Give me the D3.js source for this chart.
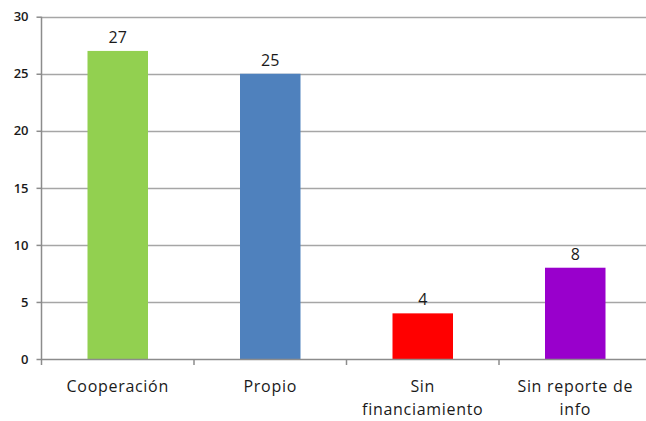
<!DOCTYPE html>
<html><head><meta charset="utf-8">
<script src="https://cdn.jsdelivr.net/npm/d3@7"></script>
<style>body{margin:0;background:#fff}svg{display:block}text{font-family:"Open Sans",sans-serif;fill:#1a1a1a}</style>
</head><body><svg id="c" width="646" height="421"></svg>
<script>
const categories = [["Cooperación"], ["Propio"], ["Sin", "financiamiento"], ["Sin reporte de", "info"]];
const values = [27, 25, 4, 8];
const colors = ["#92D050", "#4F81BD", "#FF0000", "#9900CC"];
const yTicks = [0, 5, 10, 15, 20, 25, 30];

(function () {
const svg = d3.select("#c");
const mLeft = 41.5, mRight = 651.5, mTop = 16.7, mBottom = 359;
const x = d3.scaleBand().domain(d3.range(values.length)).range([mLeft, mRight]).paddingInner(0).paddingOuter(0);
const y = d3.scaleLinear().domain([0, 30]).range([mBottom, mTop]);

// gridlines
svg.append("g").selectAll("line").data(yTicks.filter(d => d > 0)).join("line")
  .attr("x1", mLeft).attr("x2", 646).attr("y1", d => Math.round(y(d)) + 0.5).attr("y2", d => Math.round(y(d)) + 0.5)
  .attr("stroke", "#a6a6a6").attr("stroke-width", 1.5);

// bars
const bw = 60.5;
svg.append("g").selectAll("rect").data(values).join("rect")
  .attr("x", (d, i) => x(i) + x.bandwidth() / 2 - bw / 2)
  .attr("width", bw)
  .attr("y", d => y(d))
  .attr("height", d => y(0) - y(d))
  .attr("fill", (d, i) => colors[i]);

// y axis
const yAxis = d3.axisLeft(y).tickValues(yTicks).tickSize(5).tickPadding(8);
const gy = svg.append("g").attr("transform", `translate(${mLeft},0)`).call(yAxis);
gy.select(".domain").attr("stroke", "#8c8c8c").attr("stroke-width", 1.5).attr("d", `M0,${mTop}V${mBottom}`);
gy.selectAll(".tick line").attr("stroke", "#8c8c8c").attr("stroke-width", 1.5);
gy.selectAll(".tick text").style("font-family", "'Open Sans',sans-serif").style("font-size", "13px").style("font-weight", "600").attr("fill", "#1a1a1a");

// x axis
const gx = svg.append("g");
gx.append("line").attr("x1", mLeft).attr("x2", 646).attr("y1", mBottom + 0.5).attr("y2", mBottom + 0.5).attr("stroke", "#8c8c8c").attr("stroke-width", 1.5);
gx.selectAll("line.t").data(d3.range(values.length + 1)).join("line").attr("class", "t")
  .attr("x1", i => i < values.length ? x(i) : mRight).attr("x2", i => i < values.length ? x(i) : mRight)
  .attr("y1", mBottom).attr("y2", mBottom + 6).attr("stroke", "#8c8c8c").attr("stroke-width", 1.5);

const labels = gx.selectAll("text").data(categories).join("text")
  .attr("text-anchor", "middle").style("font-size", "16px").style("letter-spacing", "0.7px")
  .attr("transform", (d, i) => `translate(${x(i) + x.bandwidth() / 2},${mBottom + 33})`);
labels.selectAll("tspan").data(d => d).join("tspan").attr("x", 0).attr("dy", (d, j) => j === 0 ? 0 : 23).text(d => d);

// value labels
svg.append("g").selectAll("text").data(values).join("text")
  .attr("x", (d, i) => x(i) + x.bandwidth() / 2).attr("y", d => y(d) - 8)
  .attr("text-anchor", "middle").style("font-size", "16px").text(d => d);
})();
</script></body></html>
